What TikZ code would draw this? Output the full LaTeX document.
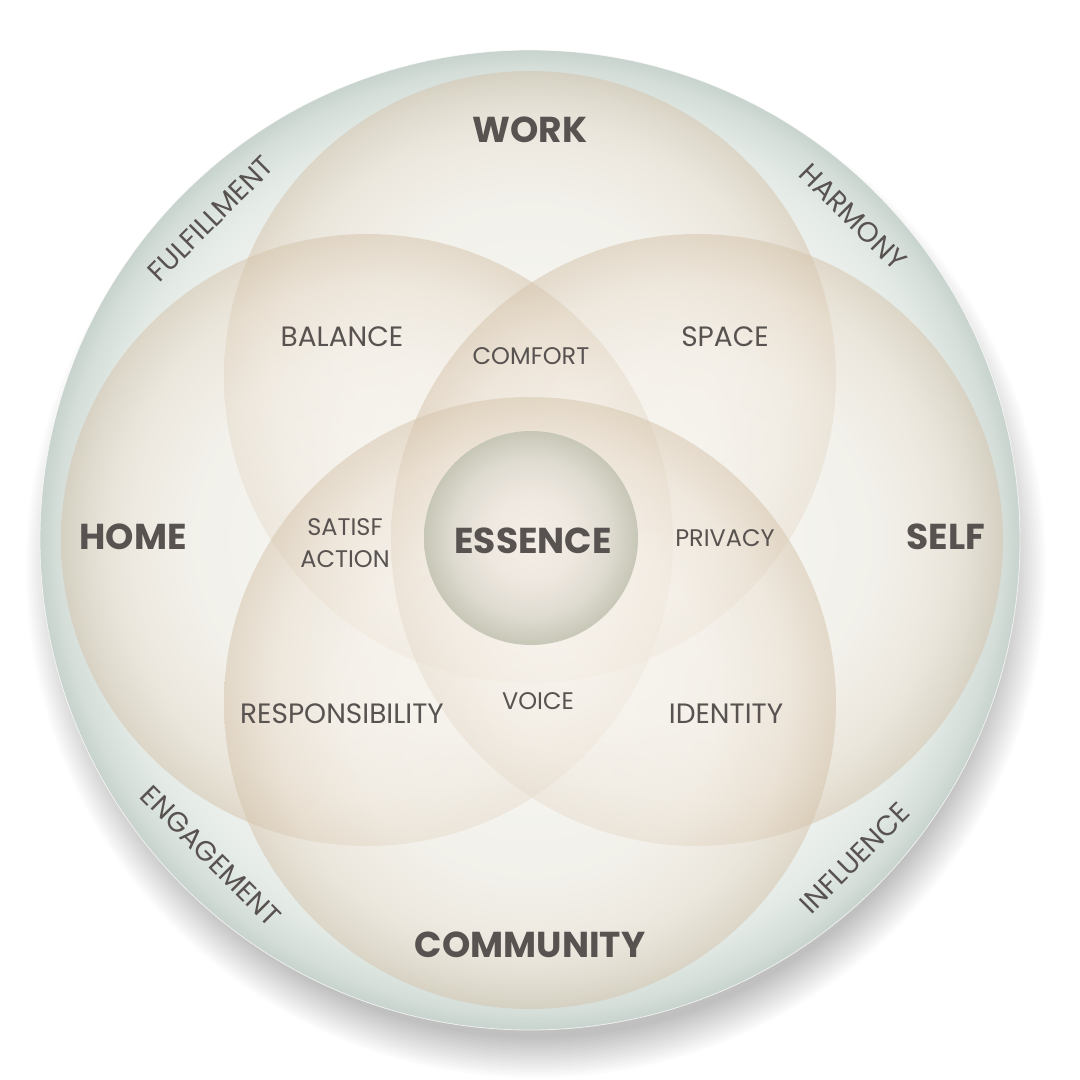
\documentclass[tikz,border=0pt]{standalone}
\usepackage{fontspec}
\setmainfont{Poppins}
\definecolor{txt}{HTML}{585250}
\definecolor{dA}{HTML}{F3F3EF}
\definecolor{dB}{HTML}{EEF1ED}
\definecolor{dC}{HTML}{E3EAE6}
\definecolor{dD}{HTML}{D4DDD8}
\definecolor{dE}{HTML}{C8D3CD}
\definecolor{tA}{HTML}{FCFAF7}
\definecolor{tB}{HTML}{F6F0E8}
\definecolor{tC}{HTML}{EADECE}
\definecolor{tD}{HTML}{D5C3AA}
\definecolor{eA}{HTML}{F4EEE7}
\definecolor{eB}{HTML}{EFE8E0}
\definecolor{eC}{HTML}{E0DCD2}
\definecolor{eD}{HTML}{C7C7B7}
\pgfdeclareradialshading{discshade}{\pgfpoint{0bp}{0bp}}{color(0bp)=(dA); color(20bp)=(dB); color(22.5bp)=(dC); color(24.2bp)=(dD); color(25bp)=(dE); color(50bp)=(dE)}
\pgfdeclareradialshading{tanshade}{\pgfpoint{0bp}{0bp}}{color(0bp)=(tA); color(15bp)=(tB); color(21bp)=(tC); color(25bp)=(tD); color(50bp)=(tD)}
\pgfdeclareradialshading{essshade}{\pgfpoint{0bp}{0bp}}{color(0bp)=(eA); color(10bp)=(eB); color(18bp)=(eC); color(25bp)=(eD); color(50bp)=(eD)}
\begin{document}
\begin{tikzpicture}[x=1pt,y=-1pt,
  lbl/.style={text=txt, inner sep=0pt},
  big/.style={lbl, font=\fontsize{36}{40}\selectfont\bfseries},
  mid/.style={lbl, font=\fontsize{28}{32}\selectfont},
  small/.style={lbl, font=\fontsize{24}{32}\selectfont},
  rimtext/.style={lbl, font=\fontsize{28}{32}\selectfont}]
\path[use as bounding box] (0,0) rectangle (1080,1080);
\fill[white] (0,0) rectangle (1080,1080);
% shadow
\foreach \i in {0,...,20}
  \fill[black, fill opacity=0.01] (536,568) circle[radius={(470+2*\i)*1pt}];
% outer disc
\coordinate (C) at (530,540);
\shade[shading=discshade] (C) circle[radius=490pt];
\draw[white, opacity=0.7, line width=0.8pt] (C) circle[radius=490pt];
% four circles
\coordinate (cw) at (530,377);
\coordinate (ch) at (367,540);
\coordinate (cs) at (697,540);
\coordinate (cc) at (530,703);
\foreach \p in {cw,ch,cs,cc}
  \shade[shading=tanshade, fill opacity=0.5] (\p) circle[radius=306pt];
% essence
\shade[shading=essshade] (531,538) circle[radius=107pt];
% labels
\node[big] (work) at (530,130) {WORK};
\node[big] (home) at (133,537) {HOME};
\node[big] (self) at (946,537) {SELF};
\node[big] (comm) at (530,945) {COMMUNITY};
\node[big] (ess) at (533,541) {ESSENCE};
\node[mid] (bal) at (342,337) {BALANCE};
\node[mid] (spc) at (725,337) {SPACE};
\node[small] (cmf) at (531,356) {COMFORT};
\node[small, align=center] (sat) at (345,543) {SATISF\\ACTION};
\node[small] (prv) at (725,538) {PRIVACY};
\node[mid] (rsp) at (342,714) {RESPONSIBILITY};
\node[small] (vce) at (538,701) {VOICE};
\node[mid] (idt) at (726,714) {IDENTITY};
\node[rimtext, rotate=45] (ful) at (211,219) {FULFILLMENT};
\node[rimtext, rotate=-45] (har) at (853,217) {HARMONY};
\node[rimtext, rotate=-45] (eng) at (211,856) {ENGAGEMENT};
\node[rimtext, rotate=45] (inf) at (855,858) {INFLUENCE};
\end{tikzpicture}
\end{document}
